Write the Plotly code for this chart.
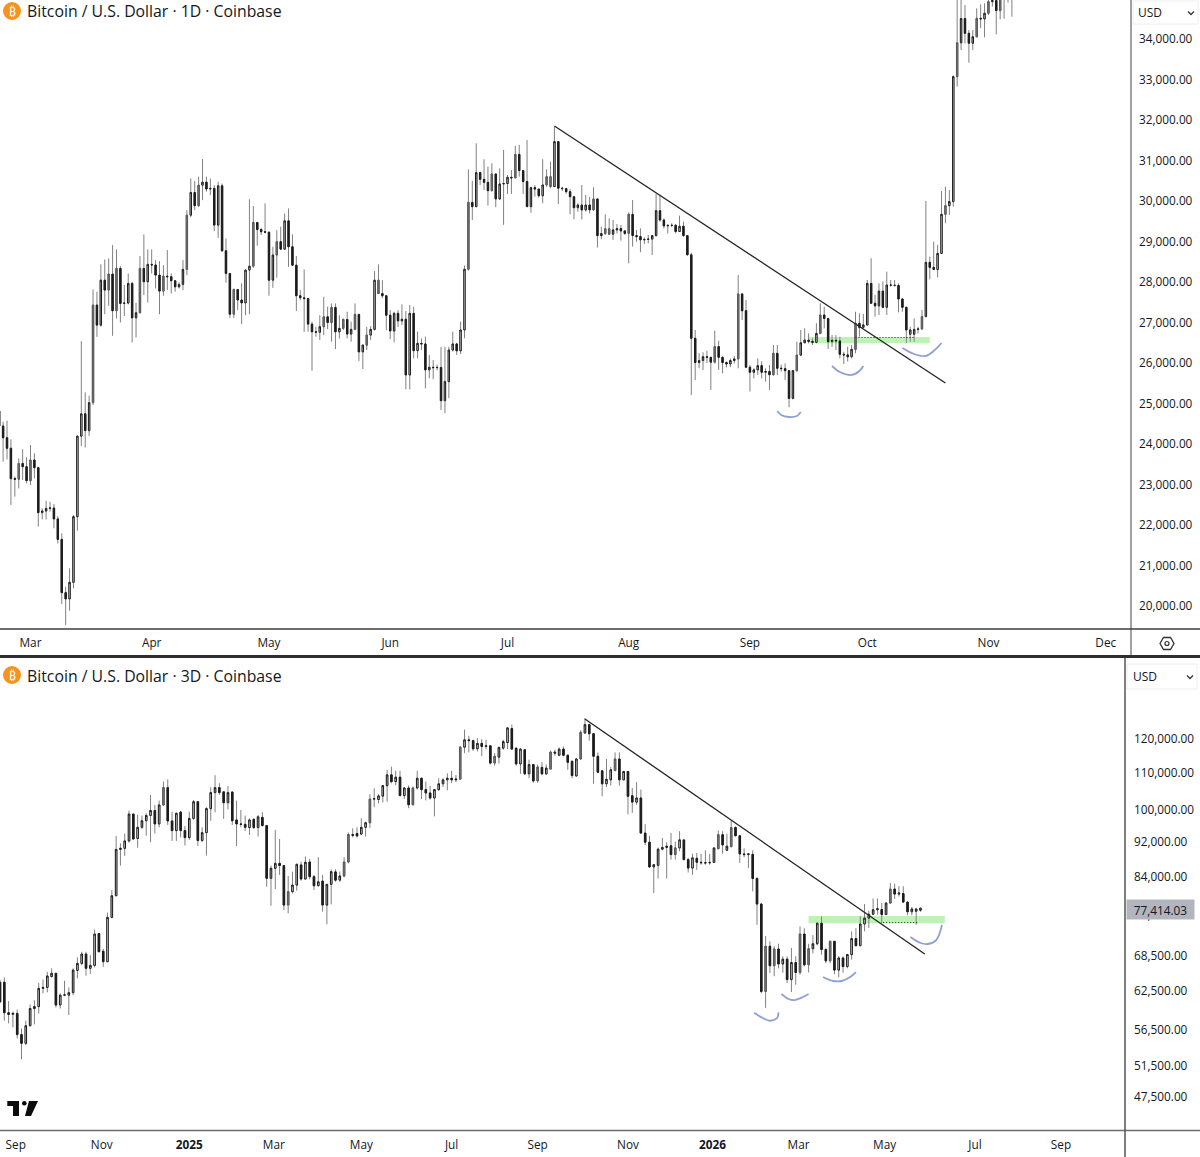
import math
import pandas as pd
import plotly.graph_objects as go

W, H = 1200, 1157

# ---- Daily BTC/USD candles, one per calendar day from 2023-02-21 ----
start_1d = "2023-02-21"
high_1d = [24850,24550,24575,24115,23200,23645,23870,23670,23975,23770,23440,22410,22600,22575,22520,22220,21795,20475,20930,22245,
 24200,26540,25275,25190,27815,27760,28435,28555,28580,28910,28805,28390,27925,28210,28005,27485,28640,29175,28805,28805,
 28540,28515,28415,28787,28210,28045,27990,28540,29775,30555,30490,30600,31035,30600,30555,30390,30475,30430,29075,28210,
 27840,27815,27965,28295,30040,29875,29470,29340,29940,29215,28870,29280,29365,29690,29815,29175,28640,27800,28310,27610,
 27020,26895,27180,27635,27390,27470,27470,27180,27100,27265,27020,27470,27200,26460,26895,26910,28270,28435,28045,27680,
 27305,27265,27305,27450,27285,27430,27390,26775,26610,26650,26200,26075,25960,26400,26400,26400,26775,26500,27020,28405,
 30780,30500,31425,30725,31030,30850,30930,30685,30805,31260,30640,30765,31360,31385,30765,31505,30355,30395,30300,31030,
 30780,30970,31835,31465,30350,30310,30290,30125,29940,30395,30150,30100,30340,30050,29365,29670,29570,29530,29430,29410,
 29285,29720,30025,29285,29325,29100,29160,29160,30175,30150,29570,29430,29450,29430,29640,29490,29160,28725,26815,26240,
 26265,26300,26140,26800,26550,26160,26040,26110,26170,28175,27720,27555,25950,25870,26115,26040,25870,25950,26445,26445,
 25960,25990,25815,25825,26525,26815,26855,26730,26610,26980,27475,27390,27110,26690,26690,26650,26275,26400,26445,27265,
 27225,27210,28050,28585,27680,27965,28010,28255,28050,28050,27965,27600,27390,26895,27100,26895,27305,30000,28625,28995,
 28915,30245,30355,30270,33100,35150,35100,34840,34220,34220,34755,34855,34880,35200,35250,35300,35300,35500,35400,35600,
 35800,35900,36000,35900,36100]
low_1d = [24390,23565,23620,22495,22700,22905,23110,23030,22985,23150,21960,22140,22140,22330,21920,21545,20050,19530,19885,20435,
 21860,23950,23915,24195,24960,26645,26895,27205,27415,26670,27100,27000,27160,27445,26505,26630,27225,27675,27495,28210,
 27840,27205,27660,27800,27715,27760,27840,27800,28170,29600,29775,29850,30020,30230,30145,29255,29090,28745,27980,27115,
 27115,27305,26960,27180,27205,28350,28895,29160,29200,27660,27855,28105,28810,28810,28375,28415,27280,27550,26770,26770,
 25810,26650,26565,26690,26835,26525,26345,26605,26810,26605,26525,26810,26045,25850,26320,26565,26800,27700,27600,26810,
 26590,26505,26890,26940,25350,25350,26115,26115,26320,25375,25620,25600,25820,24840,24760,25130,26280,26200,26220,26610,
 28280,29530,29845,30395,30270,29885,30230,29845,30025,29410,30175,30175,30570,30600,30175,29860,29710,30105,30080,29945,
 30350,30310,30350,29925,30250,30180,29670,29550,29735,29545,29735,29690,29760,28850,29055,29160,29160,29040,29200,29020,
 29160,28460,28875,28995,28735,28940,28955,28665,29120,29490,29325,29200,29350,29200,29240,29120,28665,25210,25580,25870,
 25825,26000,25335,25990,25830,25745,25890,25900,25990,25870,27060,25890,25295,25620,25705,25620,25540,25335,25690,25700,
 25790,25580,24905,25100,25785,26170,26485,26485,26445,26485,26710,26855,26345,26400,26320,26115,25975,26035,26115,26240,
 26650,26855,26915,27455,27145,27185,27350,27185,27885,27885,27250,27265,26500,26525,26525,26730,26815,27140,28065,28295,
 28115,28690,29450,29655,29860,32825,33725,33890,33415,33725,34040,34265,34040,34590,34800,34115,34485,34500,34900,34550,
 35100,35100,35200,35200,35300]
close_1d = [24445,24155,23895,23145,23130,23520,23440,23095,23605,23415,22305,22345,22410,22420,22150,21645,20330,20175,20585,22205,
 24195,24745,24330,25020,27430,26935,28045,27800,28195,27290,28335,27470,27480,27965,27115,27240,28335,28005,28435,28420,
 28170,27775,28145,28130,28030,27880,27940,28310,29650,30210,29885,30390,30465,30295,30310,29405,30375,28770,28210,27205,
 27815,27555,27485,28295,28390,29470,29295,29240,29230,28045,28665,28995,28810,29510,28870,28415,27660,27610,27590,26960,
 26770,26760,26895,27140,27000,27370,26770,26855,27075,26715,26830,27200,26275,26440,26690,26830,28045,27715,27660,27180,
 26790,27225,27040,27080,25705,27225,26305,26485,26470,25830,25895,25885,25890,25070,25540,26320,26470,26300,26815,28315,
 29965,29860,30700,30535,30460,30255,30665,30050,30420,30430,30585,30570,31150,30750,30480,29860,30330,30295,30130,30395,
 30600,30355,31465,30315,30305,30230,30105,29835,29900,29780,29900,29780,30050,29145,29195,29315,29180,29285,29320,29260,
 29200,29670,29145,29120,29040,29050,29060,29145,29760,29530,29385,29395,29400,29245,29375,29145,28670,26610,26010,26060,
 26155,26140,26020,26405,26140,26010,25975,26060,26100,27705,27290,25895,25770,25830,25935,25770,25790,25710,26240,25870,
 25860,25810,25125,25810,26195,26500,26565,26535,26510,26730,27185,27100,26525,26560,26545,26215,26200,26155,26335,26980,
 26880,26940,27965,27475,27410,27775,27375,27925,27920,27915,27580,27375,26815,26815,26830,26840,27145,28485,28360,28310,
 28705,29670,29885,29985,33070,33905,34505,34140,33895,34055,34510,34495,34635,34920,34950,34700,35000,35100,35200,35300,
 35400,35600,35500,35700,35600,35500]
open_1d = [24815] + close_1d[:-1]
# Sessions whose open sits away from the previous close
open_1d[4] = 23145
open_1d[233] = 26710
open_1d[234] = 26710
muted_1d = [5,8,24,28,30,36,42,48,51,60,65,71,83,85,88,91,94,97,120,126,132,140,141,152,155,156,161,183,189,198,204,210,219,236,242,245,250,253,256]

# ---- 3-day candles from 2024-08-22 ----
start_3d = "2024-08-22"
open_3d = [63900,63900,59050,58800,58950,55800,54550,57100,59700,60000,62900,63050,64850,65400,60250,61800,61800,62200,65900,67100,
 68750,66250,66750,72500,69250,67400,75600,79950,90150,90400,92150,98800,92750,95450,97100,98450,99700,96300,101150,105800,
 97050,94650,99300,94650,92950,97700,102000,92250,94150,100200,104450,105800,104650,101750,104600,97300,96300,96200,95400,97450,
 95400,97950,95900,83650,85850,86950,86450,78050,80800,82200,86600,83500,87250,84000,82050,83050,78050,82350,85050,83250,
 84150,87250,93700,93950,93800,95450,96600,102700,102600,103500,106350,109350,107450,108700,103650,105700,101200,105700,108400,105250,
 104350,103000,105250,106850,107950,108400,107950,108150,117500,119750,119500,117000,118650,117700,117900,112750,114500,117200,118900,123300,
 117200,112500,116700,109650,112300,107650,111500,109650,111000,116000,115050,116900,115050,113250,109050,113950,121900,124550,121650,114750,
 110500,106850,107950,110600,113950,107950,110300,103600,101900,103000,94050,91850,86150,86500,90200,90600,91000,88950,90500,92400,
 87800,85900,88100,87200,87100,87050,87150,90300,93650,89950,90800,95400,93400,89100,88950,89000,83600,78250,62400,70150,
 66700,69650,67000,67850,64350,67250,65550,72400,66850,69700,70600,74450,69550,67550,71050,65950,68050,66550,68650,71550,
 70250,74300,75450,76200,77100,77150,76150,78450,81350,80300,80400,78650,76700,76800,77000]
high_3d = [64300,64700,60850,59200,59550,56700,57850,60350,61000,63800,64350,65650,66250,65400,62100,64150,63050,66250,68150,69150,
 69150,68550,73250,72500,69650,76550,81150,93350,91600,93950,99700,98800,98550,98400,99000,103800,101150,102300,107450,108100,
 99400,99150,99600,95800,99400,102450,102200,95450,100550,105900,109250,107000,104650,106250,104700,102300,99850,98400,97700,97700,
 98550,99250,95950,86450,94800,92600,86600,84150,85100,86750,87350,88500,87950,84400,88350,84400,82350,85600,85600,85100,
 88350,94200,95200,95450,97700,96850,104000,105600,104000,106550,110800,111700,110550,110500,105950,106400,106150,110500,108550,107500,
 106300,105400,108400,108400,109800,110500,109300,117900,122950,121000,119750,120250,119950,119750,117900,115700,117700,119750,123500,124550,
 117200,117200,116700,113750,112300,112300,113050,112300,116500,116700,117400,117700,115250,113550,114250,122750,126700,124850,121900,115900,
 110800,113950,111600,115900,115900,110500,110350,105700,107300,105250,96250,93400,86800,90600,92850,91850,94050,92000,94500,92400,
 88200,89150,89300,89100,89950,89100,90500,94700,94500,93900,97150,95700,93400,90400,89100,89950,83900,78450,72050,71050,
 70150,70600,68350,68350,69850,68350,73850,73500,70600,72200,74650,75800,69850,71200,71100,68350,68350,68750,72900,73500,
 75800,78250,76900,79400,79400,78450,78600,82650,82500,81950,81950,78750,77650,77450,77500]
low_3d = [60500,57850,57450,56850,55250,52350,54300,56950,57300,58950,62100,62250,64700,59850,59700,61650,58700,61800,64550,66800,
 65000,65300,66400,69150,66500,67300,75400,79950,86450,88650,91750,92600,90550,95050,93400,91850,93950,95450,101000,96050,
 92150,92150,93000,91050,92400,97300,90950,91850,88700,97100,99250,103800,97550,100000,96050,90950,95450,94550,93600,95050,
 93200,95650,81850,77900,81350,84400,77050,76400,80450,81000,83150,83300,83450,81150,82000,76700,74250,78200,82900,82900,
 83850,86950,93000,93000,93550,93200,95350,100550,101600,101800,102000,107000,106500,103400,102700,100300,101000,105250,102700,102350,
 102550,98200,104900,105950,105050,107050,107300,108000,115700,115900,116400,116200,114750,116800,112300,112000,112600,116700,116900,116850,
 112000,109650,109300,108400,107150,107150,109300,109300,111000,114900,114750,114750,110800,108400,108850,113750,121550,119500,106850,109800,
 103450,105950,106400,110300,106300,107900,98750,99100,101200,93900,91200,85900,80500,83600,89950,83600,87800,87800,89700,87650,
 84900,84400,85500,86650,86650,86650,87050,90300,89150,89800,90650,93250,87050,88350,85900,80850,74150,62100,59800,65450,
 64900,66250,65500,63800,62300,63500,65150,66550,65550,68850,70300,68650,67150,67150,65250,64750,65500,66250,67750,70150,
 70150,72900,73550,76050,76150,74400,76100,78300,79300,79800,78600,76000,76000,74200,76700]
close_3d = [60750,59050,58800,58950,55800,54550,57100,59700,60000,62900,63050,64950,65400,60250,61800,61850,62200,65950,67100,68750,
 66250,66750,72400,69150,67400,75600,79950,90150,90400,92150,98800,92600,95450,97100,98450,99700,96300,101150,105800,97050,
 94650,99000,94650,92950,97700,102000,92250,94150,100200,104450,105800,104450,101750,104450,97100,96300,96200,95450,97300,95400,
 98100,95900,83650,85850,86950,86450,78050,80800,82200,86750,83500,87200,84000,82050,82900,78050,82350,85100,83250,84150,
 87250,93700,93500,93350,95450,96600,102700,102800,103550,106350,109350,107450,108700,103650,105700,101200,105700,108400,105250,104350,
 103000,105250,106850,107950,108400,107950,108150,117500,119750,119500,117000,118650,117700,117900,112750,114750,117400,119200,123500,116900,
 112500,116900,109650,112300,107650,111600,109650,111300,116000,115700,116900,115050,112950,109150,113950,122100,124550,121650,114750,110100,
 106850,108100,110800,113950,107950,110300,103450,101900,103000,94050,91850,86150,86650,90200,90600,90900,88950,90500,92400,87800,
 85900,88200,87200,87100,87050,87150,90500,93650,91200,90900,95400,93400,89100,88950,89100,83600,78250,62400,70150,66700,
 69650,67000,67850,64350,67250,65550,72400,66850,69700,70600,74450,69550,67550,71050,65950,68050,66550,68650,71550,70250,
 74300,75450,76200,77100,77300,76150,78450,81350,80300,80500,78650,76700,77250,77250,77414]
muted_3d = [38,67,80,81,86,96,107,115,125,128,135,143,157,167,170,178,180,186,188,193,207]

# ---- Price axes and date ticks ----
ticks_1d = [20000,21000,22000,23000,24000,25000,26000,27000,28000,29000,30000,31000,32000,33000,34000]
ticks_3d = [47500,51500,56500,62500,68500,76000,84000,92000,100000,110000,120000]
months_1d = ["2023-03-01","2023-04-01","2023-05-01","2023-06-01","2023-07-01","2023-08-01","2023-09-01","2023-10-01","2023-11-01","2023-12-01"]
month_text_1d = ["Mar","Apr","May","Jun","Jul","Aug","Sep","Oct","Nov","Dec"]
months_3d = ["2024-09-02","2024-11-01","2025-01-01","2025-03-01","2025-05-01","2025-07-03","2025-09-01","2025-11-03","2026-01-01","2026-03-02","2026-05-01","2026-07-03","2026-09-01"]
month_text_3d = ["Sep","Nov","<b>2025</b>","Mar","May","Jul","Sep","Nov","<b>2026</b>","Mar","May","Jul","Sep"]

# ---- Drawings on the daily panel ----
trend_1d_x = ["2023-07-13","2023-10-21"]
trend_1d_y = [31851,25506]
zone_1d = ("2023-09-16","2023-10-17",26490,26640)
dotted_1d_x = ["2023-09-28","2023-10-13"]
dotted_1d_y = [26630,26630]
arcs_1d = [
    (["2023-09-08","2023-09-09","2023-09-11","2023-09-13","2023-09-14"],[24815,24716,24667,24691,24790]),
    (["2023-09-22","2023-09-24","2023-09-27","2023-09-29","2023-09-30"],[25926,25778,25704,25802,25926]),
    (["2023-10-10","2023-10-13","2023-10-16","2023-10-18","2023-10-20"],[26370,26222,26173,26296,26494]),
]

# ---- Drawings on the 3-day panel ----
trend_3d_x = ["2025-10-04","2026-05-29"]
trend_3d_y = [126380,68750]
zone_3d = ("2026-03-09","2026-06-12",74450,75860)
dotted_3d_x = ["2026-04-30","2026-05-24"]
dotted_3d_y = [74590,74590]
last_price = 77414.03
arcs_3d = [
    (["2026-01-30","2026-02-05","2026-02-10","2026-02-15","2026-02-16"],[59050,58250,57840,58250,59110]),
    (["2026-02-18","2026-02-23","2026-02-27","2026-03-05","2026-03-09"],[61980,61190,61020,61500,61980]),
    (["2026-03-19","2026-03-26","2026-04-01","2026-04-07","2026-04-11"],[64770,64110,64110,64770,65620]),
    (["2026-05-19","2026-05-26","2026-05-31","2026-06-06","2026-06-10"],[71840,70740,70560,71290,74110]),
]

INK = "#1c1c1c"
WICK = "#808080"
MUTED = "#7d7d7d"
TEXT = "#131722"
FONT = "Open Sans"
ARC = "#8f9fd6"
ZONE = "#bdf4b6"


def px(x):
    return x / W


def py(y):
    return 1 - y / H


def candles(fig, dates, o, h, l, c, muted, xa, ya):
    """One wick layer under up to two body layers (regular and muted)."""
    def style(up, down, line):
        return dict(
            increasing=dict(line=dict(color=line, width=1), fillcolor=up),
            decreasing=dict(line=dict(color=line, width=1), fillcolor=down),
        )
    common = dict(xaxis=xa, yaxis=ya, hoverinfo="skip", showlegend=False, whiskerwidth=0)
    fig.add_trace(go.Candlestick(x=dates, open=o, high=h, low=l, close=c,
                                 **style(WICK, WICK, WICK), **common))
    top = [max(a, b) for a, b in zip(o, c)]
    bot = [min(a, b) for a, b in zip(o, c)]
    skip = set(muted)
    regular = [i for i in range(len(o)) if i not in skip]
    pick = lambda seq, idx: [seq[i] for i in idx]
    fig.add_trace(go.Candlestick(x=pick(dates, regular), open=pick(o, regular), high=pick(top, regular),
                                 low=pick(bot, regular), close=pick(c, regular),
                                 **style("#ffffff", INK, INK), **common))
    fig.add_trace(go.Candlestick(x=pick(dates, muted), open=pick(o, muted), high=pick(top, muted),
                                 low=pick(bot, muted), close=pick(c, muted),
                                 **style(MUTED, MUTED, "#5a5a5a"), **common))


def overlay(fig, x, y, xa, ya, color, width, dash="solid", shape="linear"):
    fig.add_trace(go.Scatter(x=x, y=y, mode="lines", xaxis=xa, yaxis=ya, hoverinfo="skip", showlegend=False,
                             line=dict(color=color, width=width, dash=dash, shape=shape, smoothing=1.0)))


fig = go.Figure()
dates_1d = list(pd.date_range(start_1d, periods=len(close_1d), freq="D"))
dates_3d = list(pd.date_range(start_3d, periods=len(close_3d), freq="3D"))

candles(fig, dates_1d, open_1d, high_1d, low_1d, close_1d, muted_1d, "x", "y")
candles(fig, dates_3d, open_3d, high_3d, low_3d, close_3d, muted_3d, "x2", "y2")

overlay(fig, trend_1d_x, trend_1d_y, "x", "y", "#222222", 1.3)
overlay(fig, dotted_1d_x, dotted_1d_y, "x", "y", "#222222", 1, dash="1px,2px")
for ax, ay in arcs_1d:
    overlay(fig, ax, ay, "x", "y", ARC, 1.8, shape="spline")

overlay(fig, trend_3d_x, trend_3d_y, "x2", "y2", "#222222", 1.3)
overlay(fig, dotted_3d_x, dotted_3d_y, "x2", "y2", "#222222", 1, dash="1px,2px")
for ax, ay in arcs_3d:
    overlay(fig, ax, ay, "x2", "y2", ARC, 1.8, shape="spline")

axis_font = dict(family=FONT, size=11.8, color=TEXT)
x_common = dict(showgrid=False, zeroline=False, showline=False, ticks="", tickfont=axis_font,
                ticklabelstandoff=6, rangeslider=dict(visible=False), type="date", tickmode="array")
y_common = dict(showgrid=False, zeroline=False, showline=False, ticks="", tickfont=axis_font,
                side="right", tickmode="array")

shapes = [
    dict(type="rect", xref="x", yref="y", x0=zone_1d[0], x1=zone_1d[1], y0=zone_1d[2], y1=zone_1d[3],
         fillcolor=ZONE, line_width=0, layer="below"),
    dict(type="rect", xref="x2", yref="y2", x0=zone_3d[0], x1=zone_3d[1], y0=zone_3d[2], y1=zone_3d[3],
         fillcolor=ZONE, line_width=0, layer="below"),
]


def frame_line(x0, y0, x1, y1, color, width):
    shapes.append(dict(type="line", xref="paper", yref="paper", x0=px(x0), x1=px(x1), y0=py(y0), y1=py(y1),
                       line=dict(color=color, width=width)))


frame_line(0, 629, W, 629, "#6e6e6e", 2)
frame_line(0, 656.5, W, 656.5, "#2e2e2e", 3)
frame_line(0, 1130.5, W, 1130.5, "#6e6e6e", 1.5)
frame_line(1131, 0, 1131, 655, "#444444", 1)
frame_line(1125, 658, 1125, H, "#555555", 1.5)


def paper_path(points, close=False):
    body = " ".join(("M" if i == 0 else "L") + f"{px(a):.5f},{py(b):.5f}" for i, (a, b) in enumerate(points))
    return body + (" Z" if close else "")


def add_logo(cx, cy):
    shapes.append(dict(type="circle", xref="paper", yref="paper", x0=px(cx - 9), x1=px(cx + 9),
                       y0=py(cy + 9), y1=py(cy - 9), fillcolor="#f7931a", line_width=0))


add_logo(12, 11)
add_logo(12, 675)


def add_currency_box(x0, y0, x1, y1, tx, ty):
    shapes.append(dict(type="rect", xref="paper", yref="paper", x0=px(x0), x1=px(x1), y0=py(y1), y1=py(y0),
                       line=dict(color="#eeeeee", width=1), fillcolor="#ffffff"))
    cx, cy = x1 - 7, (y0 + y1) / 2 + 0.5
    shapes.append(dict(type="path", xref="paper", yref="paper",
                       path=paper_path([(cx - 3, cy - 1.5), (cx, cy + 1.5), (cx + 3, cy - 1.5)]),
                       line=dict(color="#333333", width=1.3)))
    return dict(text="USD", x=px(tx), y=py(ty), xref="paper", yref="paper", xanchor="left", yanchor="middle",
                showarrow=False, font=dict(family=FONT, size=12, color=TEXT))


annotations = [
    add_currency_box(1133, 1, 1198, 24, 1136, 12),
    add_currency_box(1127, 664, 1197, 689, 1131, 676),
]

# Settings cog at the axis corner
gx, gy = 1167, 643.5
shapes.append(dict(type="path", xref="paper", yref="paper",
                   path=paper_path([(gx - 7, gy), (gx - 3.5, gy - 6), (gx + 3.5, gy - 6), (gx + 7, gy),
                                    (gx + 3.5, gy + 6), (gx - 3.5, gy + 6)], close=True),
                   line=dict(color="#333333", width=1.3)))
shapes.append(dict(type="circle", xref="paper", yref="paper", x0=px(gx - 2), x1=px(gx + 2), y0=py(gy + 2), y1=py(gy - 2),
                   line=dict(color="#333333", width=1.2)))

# Brand mark in the lower-left corner
shapes.append(dict(type="path", xref="paper", yref="paper", fillcolor="#0b0b0b", line_width=0,
                   path=paper_path([(7.3, 1101), (19, 1101), (19, 1116), (13, 1116), (13, 1106), (7.3, 1106)], close=True)))
shapes.append(dict(type="circle", xref="paper", yref="paper", x0=px(22), x1=px(26.6), y0=py(1105.6), y1=py(1101),
                   fillcolor="#0b0b0b", line_width=0))
shapes.append(dict(type="path", xref="paper", yref="paper", fillcolor="#0b0b0b", line_width=0,
                   path=paper_path([(29, 1101), (38, 1101), (31, 1116), (25, 1116)], close=True)))

for cy, label in ((11.5, "Bitcoin / U.S. Dollar · 1D · Coinbase"), (675.5, "Bitcoin / U.S. Dollar · 3D · Coinbase")):
    annotations.append(dict(text="₿", x=px(12), y=py(cy), xref="paper", yref="paper", xanchor="center", yanchor="middle",
                            showarrow=False, font=dict(family="Noto Sans", size=12, color="#ffffff")))
    annotations.append(dict(text=label, x=px(24.5), y=py(cy), xref="paper", yref="paper", xanchor="left", yanchor="middle",
                            showarrow=False, font=dict(family=FONT, size=15.8, color=TEXT)))

# Log axes take annotation positions as log10 of the price
annotations.append(dict(text=f"{last_price:,.2f}", x=px(1126), y=math.log10(last_price), xref="paper", yref="y2",
                        xanchor="left", yanchor="middle", yshift=-1, showarrow=False, width=65, height=17,
                        align="center", bgcolor="#b2b5be", font=dict(family=FONT, size=11.8, color=TEXT)))

fig.update_layout(
    width=W, height=H,
    margin=dict(l=0, r=0, t=0, b=0),
    paper_bgcolor="#ffffff",
    plot_bgcolor="#ffffff",
    showlegend=False,
    boxmode="overlay",
    boxgap=0.5,
    shapes=shapes,
    annotations=annotations,
    xaxis=dict(domain=[0, px(1131)], anchor="y", range=["2023-02-21 05:00", "2023-12-07 11:00"],
               tickvals=months_1d, ticktext=month_text_1d, **x_common),
    yaxis=dict(domain=[py(628), 1], anchor="x", range=[19457, 34962],
               tickvals=ticks_1d, ticktext=[f"{v:,.2f}" for v in ticks_1d], ticklabelstandoff=7, **y_common),
    xaxis2=dict(domain=[0, px(1125)], anchor="y2", range=["2024-08-22", "2026-10-15 16:00"],
                tickvals=months_3d, ticktext=month_text_3d, **x_common),
    yaxis2=dict(domain=[py(1130), py(658)], anchor="x2", type="log", range=[4.6393, 5.1703],
                tickvals=ticks_3d, ticktext=[f"{v:,.2f}" for v in ticks_3d], ticklabelstandoff=8, **y_common),
)

fig.write_html("out.html")
